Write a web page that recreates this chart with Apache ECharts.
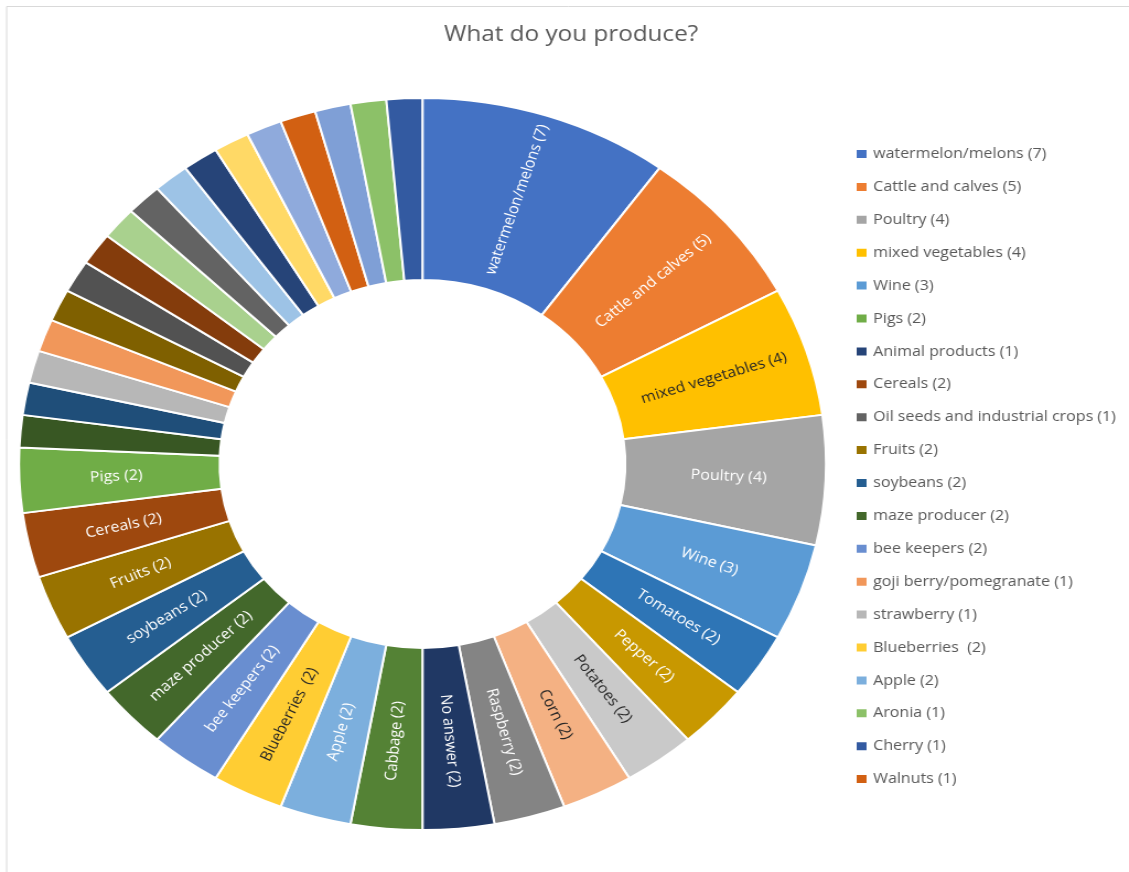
<!DOCTYPE html>
<html>
<head>
<meta charset="utf-8">
<title>What do you produce?</title>
<script src="https://cdn.jsdelivr.net/npm/echarts@6/dist/echarts.min.js"></script>
<style>
  html, body { margin: 0; padding: 0; background: #fff; overflow: hidden; }
  /* The drawing is laid out 1024 px wide and widened to the 1129 px window. */
  #chart { width: 1024px; height: 872px; transform: scaleX(1.1025); transform-origin: 0 0; }
</style>
</head>
<body>
<div id="chart"></div>
<script>
// Slices, clockwise from twelve o'clock. Entries that the legend does not list carry no name.
const sliceNames = [
  'watermelon/melons (7)', 'Cattle and calves (5)', 'mixed vegetables (4)', 'Poultry (4)', 'Wine (3)',
  'Tomatoes (2)', 'Pepper (2)', 'Potatoes (2)', 'Corn (2)', 'Raspberry (2)', 'No answer (2)',
  'Cabbage (2)', 'Apple (2)', 'Blueberries  (2)', 'bee keepers (2)', 'maze producer (2)',
  'soybeans (2)', 'Fruits (2)', 'Cereals (2)', 'Pigs (2)',
  '', '', 'strawberry (1)', 'goji berry/pomegranate (1)', '', '', '', '',
  'Oil seeds and industrial crops (1)', '', 'Animal products (1)', '', '', 'Walnuts (1)', '',
  'Aronia (1)', 'Cherry (1)'
];
const sliceValues = [
  7, 5, 4, 4, 3,
  2, 2, 2, 2, 2, 2,
  2, 2, 2, 2, 2,
  2, 2, 2, 2,
  1, 1, 1, 1, 1, 1, 1, 1,
  1, 1, 1, 1, 1, 1, 1,
  1, 1
];
const sliceColors = [
  '#4472C4', '#ED7D31', '#FFC000', '#A5A5A5', '#5B9BD5',
  '#2E75B6', '#C89800', '#C9C9C9', '#F4B183', '#848484', '#203864',
  '#548235', '#7CAFDD', '#FFCD33', '#698ED0', '#43682B',
  '#255E91', '#997300', '#9E480E', '#70AD47',
  '#385723', '#1F4E79', '#B7B7B7', '#F1975A', '#7F6000', '#525252', '#843C0C', '#A9D18E',
  '#636363', '#9DC3E6', '#264478', '#FFD966', '#8FAADC', '#D26012', '#7F9FD6',
  '#8CC168', '#335AA1'
];
// Slices whose label is set in dark text
const darkLabelNames = ['mixed vegetables (4)', 'Potatoes (2)', 'Corn (2)', 'Blueberries  (2)'];

// Legend entries, in the order listed
const legendNames = [
  'watermelon/melons (7)', 'Cattle and calves (5)', 'Poultry (4)', 'mixed vegetables (4)', 'Wine (3)',
  'Pigs (2)', 'Animal products (1)', 'Cereals (2)', 'Oil seeds and industrial crops (1)', 'Fruits (2)',
  'soybeans (2)', 'maze producer (2)', 'bee keepers (2)', 'goji berry/pomegranate (1)', 'strawberry (1)',
  'Blueberries  (2)', 'Apple (2)', 'Aronia (1)', 'Cherry (1)', 'Walnuts (1)'
];

const FONT = '"Open Sans", "Noto Sans", sans-serif';

const pieData = sliceNames.map((name, i) => ({
  name: name,
  value: sliceValues[i],
  itemStyle: { color: sliceColors[i] },
  label: {
    show: sliceValues[i] > 1,
    color: darkLabelNames.includes(name) ? '#262626' : '#ffffff'
  }
}));

const chart = echarts.init(document.getElementById('chart'), null, { renderer: 'canvas' });
chart.setOption({
  animation: false,
  backgroundColor: '#ffffff',
  title: {
    text: 'What do you produce?',
    left: 518,
    top: 24,
    textAlign: 'center',
    padding: 0,
    textStyle: { fontFamily: FONT, fontSize: 22, fontWeight: 'normal', color: '#595959' }
  },
  legend: {
    orient: 'vertical',
    left: 775,
    top: 146,
    padding: 0,
    itemWidth: 11,
    itemHeight: 10,
    itemGap: 16.9,
    icon: 'rect',
    selectedMode: false,
    data: legendNames,
    textStyle: { fontFamily: FONT, fontSize: 14.5, lineHeight: 16, color: '#595959' }
  },
  graphic: [{
    type: 'rect',
    silent: true,
    z: -1,
    shape: { x: 6, y: 6.5, width: 1100, height: 900 },
    style: { fill: 'none', stroke: '#D9D9D9', lineWidth: 1 }
  }],
  series: [{
    type: 'pie',
    center: [383.2, 464],
    radius: [184, 366],
    startAngle: 90,
    clockwise: true,
    avoidLabelOverlap: false,
    itemStyle: { borderColor: '#ffffff', borderWidth: 2 },
    label: {
      position: 'inside',
      rotate: 'radial',
      fontFamily: FONT,
      fontSize: 14.5
    },
    labelLine: { show: false },
    emphasis: { disabled: true },
    data: pieData
  }]
});
</script>
</body>
</html>
